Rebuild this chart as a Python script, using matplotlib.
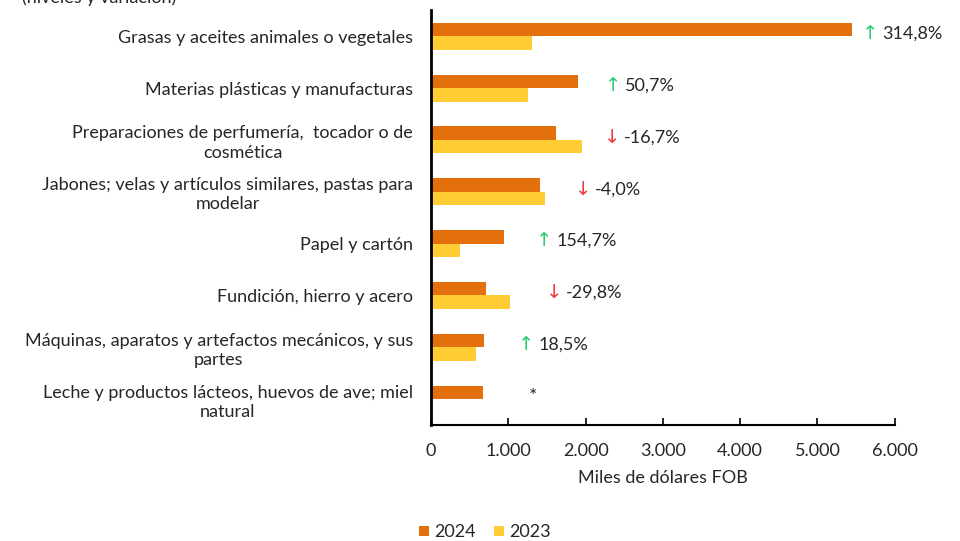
"""Exports by product: 2024 vs 2023 levels and variation."""

import matplotlib

matplotlib.use("Agg")

import matplotlib.pyplot as plt
import numpy as np

CATEGORIES = [
    "Grasas y aceites animales o vegetales",
    "Materias plásticas y manufacturas",
    "Preparaciones de perfumería,  tocador o de\ncosmética",
    "Jabones; velas y artículos similares, pastas para\nmodelar",
    "Papel y cartón",
    "Fundición, hierro y acero",
    "Máquinas, aparatos y artefactos mecánicos, y sus\npartes",
    "Leche y productos lácteos, huevos de ave; miel\nnatural",
]
VALUES_2024 = [5446, 1902, 1617, 1410, 944, 712, 686, 673]
VALUES_2023 = [1307, 1255, 1953, 1475, 375, 1022, 582, 0]
VARIATION = ["314,8%", "50,7%", "-16,7%", "-4,0%", "154,7%", "-29,8%", "18,5%", None]
XTICKS = [0, 1000, 2000, 3000, 4000, 5000, 6000]
XTICK_LABELS = ["0", "1.000", "2.000", "3.000", "4.000", "5.000", "6.000"]

# where the variation labels sit (x in data units)
LABEL_X = [5680, 2355, 2340, 1966, 1462, 1591, 1229, 1320]

C_2024 = "#E3700D"
C_2023 = "#FFCD33"
C_UP = "#2ECC71"
C_DOWN = "#F03C3C"
C_TEXT = "#262626"
FONT = ["Lato", "DejaVu Sans"]

plt.rcParams["font.family"] = FONT
plt.rcParams["font.size"] = 13

fig = plt.figure(figsize=(9.6, 5.41), dpi=100)
ax = fig.add_axes([0.449, 0.2144, 0.483, 0.7666])

y = np.arange(len(CATEGORIES))
h = 0.26
ax.barh(y - h / 2, VALUES_2024, height=h, color=C_2024, label="2024")
ax.barh(y + h / 2, VALUES_2023, height=h, color=C_2023, label="2023")

for i, (var, lx) in enumerate(zip(VARIATION, LABEL_X)):
    if var is None:
        ax.text(lx, i - 0.05, "*", ha="center", va="center", color=C_TEXT, fontsize=14)
        continue
    up = not var.startswith("-")
    ax.text(lx, i - 0.05, "↑" if up else "↓", ha="center", va="center",
            color=C_UP if up else C_DOWN, fontsize=14, family="DejaVu Sans")
    ax.text(lx + 160, i - 0.05, var, ha="left", va="center", color=C_TEXT)

ax.set_xlim(0, 6000)
ax.set_ylim(len(CATEGORIES) - 0.5, -0.5)
ax.set_xticks(XTICKS)
ax.set_xticklabels(XTICK_LABELS)
ax.set_yticks(y)
ax.set_yticklabels(CATEGORIES, multialignment="center", linespacing=1.25)
ax.tick_params(axis="y", length=0, pad=13, colors=C_TEXT)
ax.tick_params(axis="x", direction="in", length=5, width=1.2, pad=13,
               colors=C_TEXT)
ax.tick_params(axis="x", color="#000000")
ax.set_xlabel("Miles de dólares FOB", color=C_TEXT, labelpad=8)

for side in ["top", "right"]:
    ax.spines[side].set_visible(False)
ax.spines["left"].set_linewidth(2)
ax.spines["bottom"].set_linewidth(1.5)

fig.text(0.023, 1.004, "(niveles y variación)", ha="left", va="center",
         color=C_TEXT, fontsize=13)

fig.legend(loc="center", bbox_to_anchor=(0.505, 0.016), ncol=2, frameon=False,
           handlelength=0.55, handleheight=0.55, handletextpad=0.3,
           columnspacing=1.0, labelcolor=C_TEXT)

fig.savefig("out.png", dpi=100)
